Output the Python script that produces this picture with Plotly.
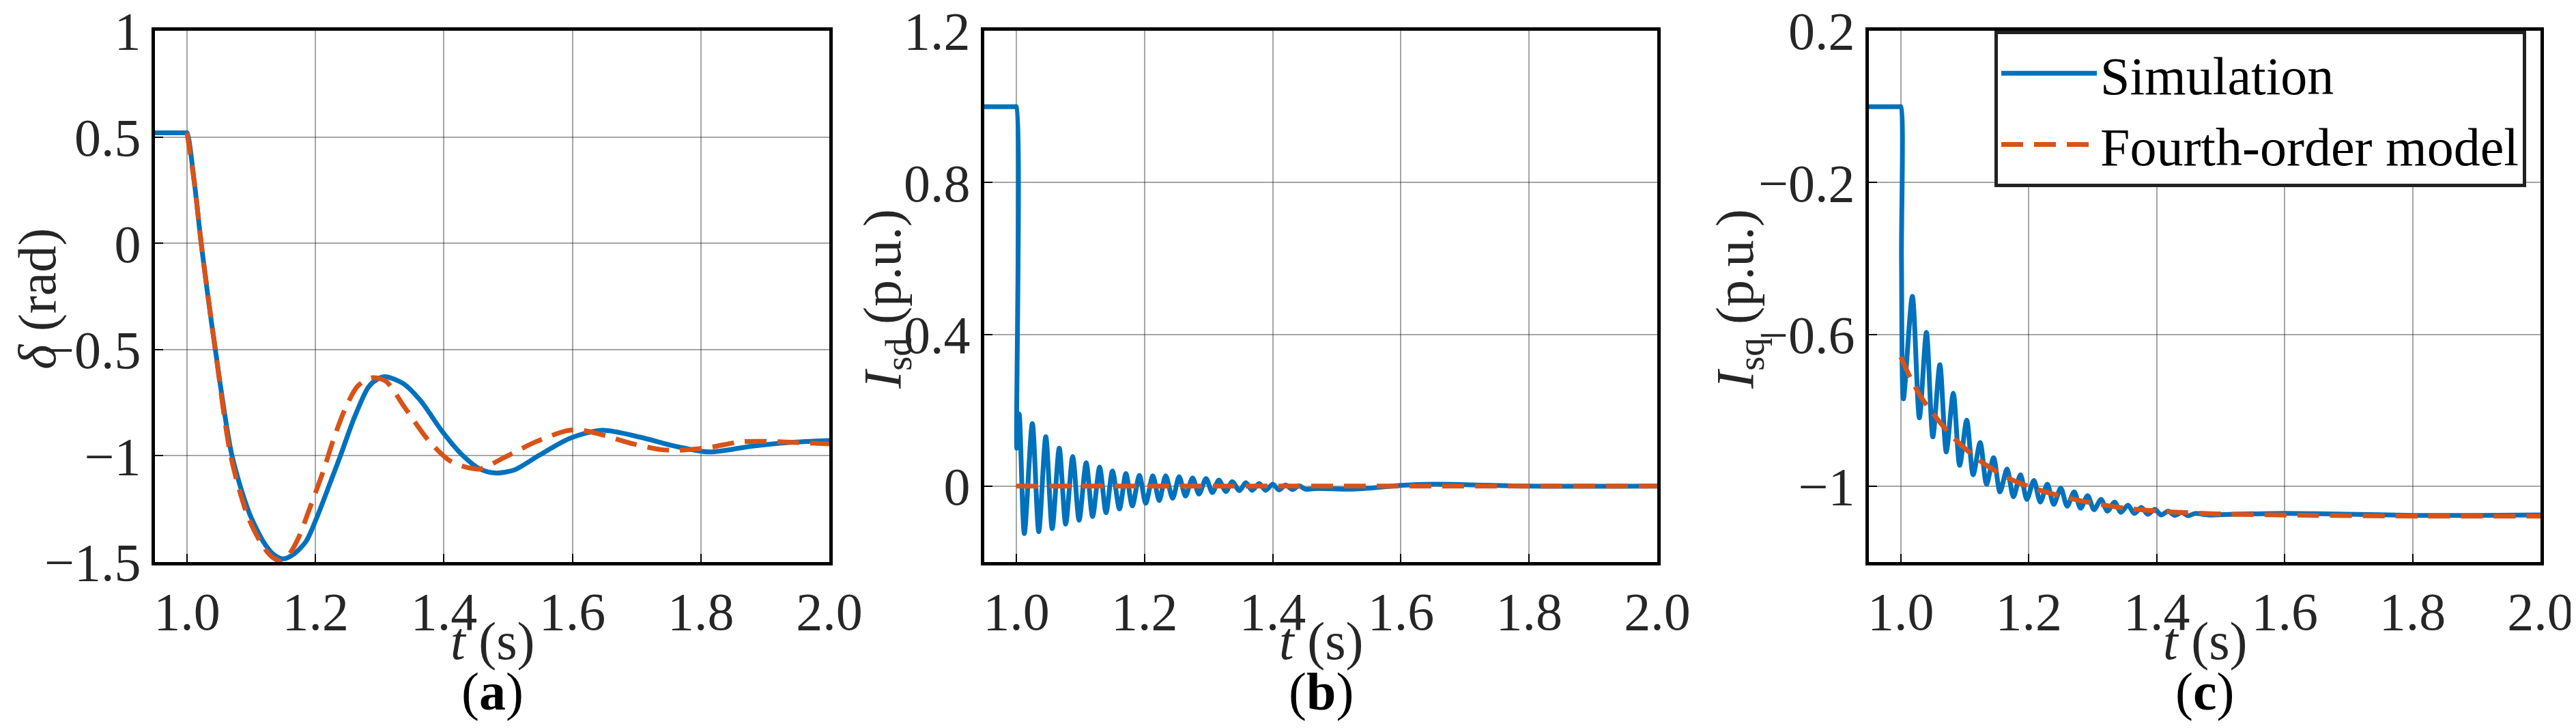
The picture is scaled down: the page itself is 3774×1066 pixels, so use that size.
import plotly.graph_objects as go

# ---------------- data ----------------
# (a) rotor angle delta (rad)
t_a_sim = [0.95, 0.998, 1.0, 1.012, 1.022, 1.044, 1.07, 1.097, 1.12, 1.135, 1.1496, 1.165,
           1.185, 1.201, 1.223, 1.239, 1.261, 1.2825, 1.296, 1.3095, 1.3366, 1.3637, 1.396,
           1.429, 1.456, 1.48, 1.51, 1.548, 1.597, 1.646, 1.705, 1.76, 1.814, 1.878, 1.94, 2.0]
d_a_sim = [0.52, 0.52, 0.52, 0.27, 0.0, -0.5, -1.0, -1.27, -1.41, -1.465, -1.485, -1.465,
           -1.404, -1.298, -1.126, -0.998, -0.816, -0.676, -0.64, -0.628, -0.66, -0.741, -0.88,
           -0.998, -1.062, -1.081, -1.066, -0.998, -0.917, -0.88, -0.912, -0.955, -0.982, -0.955, -0.937, -0.928]

t_a_mod = [1.0, 1.012, 1.022, 1.044, 1.068, 1.094, 1.117, 1.132, 1.147, 1.16, 1.174, 1.19,
           1.212, 1.228, 1.247, 1.266, 1.2878, 1.3095, 1.339, 1.3746, 1.407, 1.43, 1.456,
           1.494, 1.543, 1.5915, 1.61, 1.64, 1.6946, 1.738, 1.765, 1.814, 1.8626, 1.9, 1.95, 2.0]
d_a_mod = [0.52, 0.27, 0.0, -0.5, -1.0, -1.28, -1.42, -1.475, -1.496, -1.46, -1.383, -1.255,
           -1.073, -0.923, -0.773, -0.671, -0.633, -0.649, -0.773, -0.923, -1.019, -1.05, -1.062,
           -1.008, -0.934, -0.882, -0.878, -0.896, -0.944, -0.971, -0.974, -0.96, -0.934, -0.932, -0.938, -0.944]

# (b) I_sd (p.u.)
t_b_sim = [0.95, 0.998, 1.0, 1.0008, 1.0045, 1.0125, 1.025, 1.035, 1.046, 1.056, 1.067, 1.077,
           1.088, 1.098, 1.109, 1.119, 1.130, 1.140, 1.150, 1.161, 1.171, 1.181, 1.192, 1.202,
           1.213, 1.223, 1.233, 1.244, 1.254, 1.264, 1.275, 1.285, 1.296, 1.306, 1.316, 1.327,
           1.337, 1.348, 1.358, 1.368, 1.379, 1.389, 1.400, 1.410, 1.420, 1.431, 1.441, 1.451,
           1.47, 1.52, 1.56, 1.60, 1.65, 1.70, 1.80, 2.0]
i_b_sim = [1.0, 1.0, 1.0, 0.10, 0.19, -0.125, 0.165, -0.12, 0.13, -0.112, 0.10, -0.10,
           0.078, -0.09, 0.062, -0.08, 0.05, -0.07, 0.04, -0.06, 0.033, -0.052, 0.028, -0.045,
           0.027, -0.038, 0.027, -0.032, 0.025, -0.026, 0.022, -0.021, 0.02, -0.017, 0.016, -0.014,
           0.012, -0.012, 0.009, -0.011, 0.007, -0.011, 0.005, -0.010, 0.003, -0.009, 0.001, -0.008,
           -0.006, -0.008, -0.004, 0.002, 0.005, 0.004, 0.0, 0.0]
t_b_mod = [1.0, 2.0]
i_b_mod = [0.0, 0.0]

# (c) I_sq (p.u.)
t_c_sim = [0.95, 0.998, 1.0, 1.001, 1.004, 1.018, 1.029, 1.040, 1.050, 1.061, 1.071, 1.082,
           1.092, 1.103, 1.113, 1.124, 1.134, 1.145, 1.155, 1.166, 1.176, 1.187, 1.197, 1.208,
           1.218, 1.229, 1.239, 1.250, 1.260, 1.271, 1.281, 1.292, 1.302, 1.313, 1.323, 1.334,
           1.344, 1.355, 1.365, 1.376, 1.386, 1.397, 1.407, 1.418, 1.428, 1.439, 1.449, 1.46,
           1.48, 1.52, 1.6, 1.7, 1.8, 1.9, 2.0]
i_c_sim = [0.0, 0.0, 0.0, -0.40, -0.77, -0.50, -0.82, -0.595, -0.87, -0.68, -0.91, -0.755,
           -0.945, -0.826, -0.97, -0.885, -0.995, -0.925, -1.015, -0.955, -1.028, -0.97, -1.035, -0.985,
           -1.042, -0.995, -1.048, -1.005, -1.053, -1.015, -1.058, -1.025, -1.062, -1.035, -1.066, -1.042,
           -1.069, -1.05, -1.072, -1.056, -1.074, -1.061, -1.076, -1.066, -1.077, -1.069, -1.078, -1.072,
           -1.076, -1.074, -1.072, -1.074, -1.077, -1.077, -1.076]
t_c_mod = [1.0, 1.015, 1.034, 1.077, 1.121, 1.168, 1.216, 1.285, 1.355, 1.424, 1.493, 1.649, 1.82, 2.0]
i_c_mod = [-0.66, -0.715, -0.771, -0.863, -0.93, -0.979, -1.01, -1.04, -1.059, -1.068, -1.073, -1.077, -1.079, -1.079]

series_names = ["Simulation", "Fourth-order model"]
x_ticks = [1.0, 1.2, 1.4, 1.6, 1.8, 2.0]
panel_letters = ["a", "b", "c"]
x_title = "<i>t</i> (s)"
y_titles = ["<i>δ</i> (rad)", "<i>I</i><sub>sd</sub> (p.u.)", "<i>I</i><sub>sq</sub> (p.u.)"]

# ---------------- style / layout ----------------
W, H = 3774, 1066            # figure size
BM = 8                       # default <body> margin of the written page (figure is offset by it)


def px_x(p):  # page pixel -> paper x
    return (p - BM) / W


def px_y(p):  # page pixel -> paper y
    return 1 - (p - BM) / H


FONT = "Liberation Serif, Times New Roman, serif"
BLUE = "#0072BD"
ORANGE = "#D95319"
TXT = "#262626"
FS = 78

x_px = [(227, 1215), (1442, 2428), (2738, 3722)]
y_px = (45, 823)
y_title_x = [54, 1298, 2547]
y_ranges = [[-1.5, 1.0], [-0.2, 1.2], [-1.2, 0.2]]
y_tick0 = [1.0, 0.0, 0.2]
y_dtick = [0.5, 0.4, 0.4]

fig = go.Figure()

data = [
    (t_a_sim, d_a_sim, t_a_mod, d_a_mod),
    (t_b_sim, i_b_sim, t_b_mod, i_b_mod),
    (t_c_sim, i_c_sim, t_c_mod, i_c_mod),
]

for k, (ts, ys, tm, ym) in enumerate(data):
    xa = "x" if k == 0 else f"x{k+1}"
    ya = "y" if k == 0 else f"y{k+1}"
    fig.add_trace(go.Scatter(x=ts, y=ys, mode="lines", name=series_names[0],
                             line=dict(color=BLUE, width=7, shape="spline", smoothing=0.8),
                             xaxis=xa, yaxis=ya, showlegend=(k == 2)))
    fig.add_trace(go.Scatter(x=tm, y=ym, mode="lines", name=series_names[1],
                             line=dict(color=ORANGE, width=7, dash="32px,16px", shape="spline", smoothing=0.8),
                             xaxis=xa, yaxis=ya, showlegend=(k == 2)))

layout = dict(
    template="none",
    width=W, height=H,
    margin=dict(l=0, r=0, t=0, b=0, autoexpand=False),
    paper_bgcolor="white", plot_bgcolor="white",
    font=dict(family=FONT, size=FS, color=TXT),
    showlegend=True,
    legend=dict(x=px_x(2922), xanchor="left", y=px_y(45), yanchor="top",
                bgcolor="white", bordercolor="#222222", borderwidth=5,
                font=dict(family=FONT, size=FS, color="black"),
                itemwidth=140, tracegroupgap=0),
    annotations=[],
)

for k in range(3):
    sx = "" if k == 0 else str(k + 1)
    layout["xaxis" + sx] = dict(
        domain=[px_x(x_px[k][0]), px_x(x_px[k][1])], anchor="y" + sx,
        range=[0.95, 2.0], tickvals=x_ticks, tickformat=".1f",
        showgrid=True, gridcolor="rgba(0,0,0,0.35)", gridwidth=2,
        showline=True, linecolor="black", linewidth=5, mirror=True,
        ticks="inside", ticklen=12, tickwidth=2, tickcolor="black",
        zeroline=False, automargin=False, ticklabeloverflow="allow",
        tickfont=dict(size=FS, color=TXT),
    )
    layout["yaxis" + sx] = dict(
        domain=[px_y(y_px[1]), px_y(y_px[0])], anchor="x" + sx,
        range=y_ranges[k], tick0=y_tick0[k], dtick=y_dtick[k],
        showgrid=True, gridcolor="rgba(0,0,0,0.35)", gridwidth=2,
        showline=True, linecolor="black", linewidth=5, mirror=True,
        ticks="inside", ticklen=12, tickwidth=2, tickcolor="black",
        zeroline=False, automargin=False, ticklabeloverflow="allow",
        tickfont=dict(size=FS, color=TXT),
    )
    cx = px_x((x_px[k][0] + x_px[k][1]) / 2)
    # x-axis title
    layout["annotations"].append(dict(
        text=x_title, xref="paper", yref="paper", x=cx, y=px_y(938),
        xanchor="center", yanchor="middle", showarrow=False,
        font=dict(family=FONT, size=FS, color=TXT),
    ))
    # y-axis title
    layout["annotations"].append(dict(
        text=y_titles[k], xref="paper", yref="paper", x=px_x(y_title_x[k]), y=px_y(438),
        xanchor="center", yanchor="middle", textangle=-90, showarrow=False,
        font=dict(family=FONT, size=FS, color=TXT),
    ))
    # panel label
    layout["annotations"].append(dict(
        text=f"(<b>{panel_letters[k]}</b>)", xref="paper", yref="paper",
        x=cx, y=px_y(1012),
        xanchor="center", yanchor="middle", showarrow=False,
        font=dict(family=FONT, size=FS, color="black"),
    ))

fig.update_layout(**layout)
fig.write_html("out.html")
